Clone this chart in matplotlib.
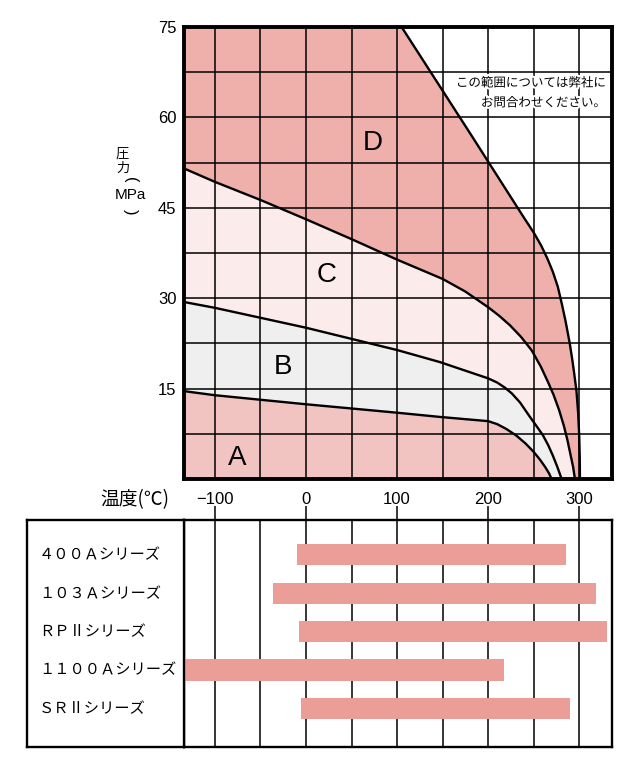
import matplotlib
matplotlib.use("Agg")
import matplotlib.pyplot as plt
import matplotlib.patheffects as pe
import numpy as np

plt.rcParams['font.family'] = ['Liberation Sans', 'Noto Sans CJK JP', 'DejaVu Sans']
JP = ['Noto Sans CJK JP', 'DejaVu Sans']

# ---------------- data ----------------
# boundary curves (temperature degC, pressure MPa)
a_t = [-135, -100, 0, 100, 147, 200, 210, 220, 231, 241, 250, 257, 263, 267, 269.7]
a_p = [14.6, 13.9, 12.4, 11.0, 10.3, 9.6, 9.1, 8.3, 7.2, 5.9, 4.5, 3.2, 1.9, 0.9, 0.0]

b_t = [-135, -100, 0, 100, 147, 200, 210, 218, 226, 235, 245, 253, 260, 266, 271, 276, 280.7]
b_p = [29.4, 28.4, 25.1, 21.4, 19.4, 16.7, 16.0, 15.2, 14.2, 12.7, 10.5, 8.8, 7.3, 5.6, 3.9, 2.0, 0.0]

c_t = [-135, -100, -50, 0, 50, 100, 150, 175, 200, 212, 224, 236, 248, 258, 266, 272, 278,
       283, 287, 290.5, 293.3, 295.3]
c_p = [51.6, 49.3, 46.3, 43.1, 39.8, 36.4, 33.2, 31.1, 28.5, 27.1, 25.5, 23.6, 21.3, 18.6,
       16.0, 13.9, 11.4, 8.9, 6.5, 4.0, 2.0, 0.0]

d_t = [105, 180, 240, 250, 258, 265, 271, 276.5, 281, 285, 289.5, 292.5, 294.5, 297, 298.8,
       300, 300.6, 300.8]
d_p = [75, 57.4, 43.2, 40.9, 38.8, 36.6, 34.4, 31.9, 29.0, 26.2, 22.6, 19.7, 17.5, 14.6,
       11.0, 7.2, 3.5, 0.0]

region_letters = ['A', 'B', 'C', 'D']
letter_t = [-76, -25.6, 22.7, 73]
letter_p = [3.5, 18.6, 33.8, 55.7]

x_ticks = [-100, 0, 100, 200, 300]
x_tick_labels = ['\u2212100', '0', '100', '200', '300']
y_ticks = [15, 30, 45, 60, 75]
y_tick_labels = ['15', '30', '45', '60', '75']

series = ['４００Ａシリーズ', '１０３Ａシリーズ', 'ＲＰⅡシリーズ', '１１００Ａシリーズ', 'ＳＲⅡシリーズ']
range_start = [-10, -36, -8, -140, -6]
range_end = [286, 318, 330, 217, 290]

note_lines = ['この範囲については弊社に', 'お問合わせください。']

# ---------------- colours ----------------
col_a = '#f1c4c1'
col_b = '#efefef'
col_c = '#fbebeb'
col_d = '#efb0ab'
col_bar = '#eb9e97'

W, H = 632, 776
fig = plt.figure(figsize=(W / 100, H / 100), dpi=100)
fig.patch.set_facecolor('white')

L, R = 183.5, 612
XMIN, XMAX = -134.5, 336

# ---------------- top chart ----------------
ax = fig.add_axes([L / W, 1 - 479 / H, (R - L) / W, (479 - 27) / H])
ax.set_xlim(XMIN, XMAX)
ax.set_ylim(0, 75)

at, ap = np.array(a_t), np.array(a_p)
bt, bp = np.array(b_t), np.array(b_p)
ct, cp = np.array(c_t), np.array(c_p)
dt, dp = np.array(d_t), np.array(d_p)

ax.fill(np.r_[XMIN, at, XMIN], np.r_[ap[0], ap, 0], color=col_a, lw=0, zorder=1)
ax.fill(np.r_[at, bt[::-1]], np.r_[ap, bp[::-1]], color=col_b, lw=0, zorder=1)
ax.fill(np.r_[bt, ct[::-1]], np.r_[bp, cp[::-1]], color=col_c, lw=0, zorder=1)
ax.fill(np.r_[ct, dt[::-1], XMIN], np.r_[cp, dp[::-1], 75], color=col_d, lw=0, zorder=1)

for v in np.arange(-100, 301, 50):
    ax.axvline(v, color='black', lw=1.1, zorder=2)
for v in np.arange(7.5, 75, 7.5):
    ax.axhline(v, color='black', lw=1.1, zorder=2)

for tt, pp in [(at, ap), (bt, bp), (ct, cp), (dt, dp)]:
    ax.plot(tt, pp, color='black', lw=1.7, zorder=3, solid_joinstyle='round')

for s, tx, py in zip(region_letters, letter_t, letter_p):
    ax.text(tx, py, s, fontsize=20, ha='center', va='center', zorder=4)

halo = [pe.withStroke(linewidth=3, foreground='white')]
ax.text(329.3, 65.7, note_lines[0], family=JP, fontsize=9, ha='right', va='center',
        zorder=5, path_effects=halo)
ax.text(329.3, 62.4, note_lines[1], family=JP, fontsize=9, ha='right', va='center',
        zorder=5, path_effects=halo)

ax.set_xticks(x_ticks)
ax.set_xticklabels(x_tick_labels)
ax.set_yticks(y_ticks)
ax.set_yticklabels(y_tick_labels)
ax.tick_params(axis='both', length=0, labelsize=12)
ax.tick_params(axis='x', pad=9)
ax.tick_params(axis='y', pad=5)
for sp in ax.spines.values():
    sp.set_linewidth(2.8)
    sp.set_zorder(6)

# y-axis label (vertical writing)
fig.text(122.5 / W, 1 - 154 / H, '圧', family=JP, fontsize=9.5, ha='center', va='center')
fig.text(122.5 / W, 1 - 168 / H, '力', family=JP, fontsize=9.5, ha='center', va='center')
fig.text(130 / W, 1 - 180 / H, '(', fontsize=12, ha='center', va='center', rotation=-90)
fig.text(130 / W, 1 - 195 / H, 'MPa', fontsize=11, ha='center', va='center')
fig.text(130 / W, 1 - 212 / H, ')', fontsize=12, ha='center', va='center', rotation=-90)

# x-axis label
fig.text(135 / W, 1 - 500 / H, '温度(℃)', family=JP, fontsize=13.5, ha='center', va='center')

# ---------------- bottom chart ----------------
BT, BB = 520, 747
ax2 = fig.add_axes([L / W, 1 - BB / H, (R - L) / W, (BB - BT) / H])
ax2.set_xlim(XMIN, XMAX)
ax2.set_ylim(5.0, -0.9)
for v in np.arange(-100, 301, 50):
    ax2.axvline(v, color='black', lw=1.1, zorder=1)
ypos = np.arange(len(series))
ax2.barh(ypos, np.array(range_end) - np.array(range_start), left=range_start,
         height=0.55, color=col_bar, zorder=3)
ax2.set_xticks([])
ax2.set_yticks([])
for sp in ax2.spines.values():
    sp.set_linewidth(1.7)
ax2.vlines(x_ticks, 1.0, 1.0 + 14 / (BB - BT), transform=ax2.get_xaxis_transform(),
           color='black', lw=1.1, clip_on=False)

# label box
ax3 = fig.add_axes([27 / W, 1 - BB / H, (L - 27) / W, (BB - BT) / H])
ax3.set_xlim(0, 1)
ax3.set_ylim(5.0, -0.9)
ax3.set_xticks([])
ax3.set_yticks([])
for sp in ax3.spines.values():
    sp.set_linewidth(1.7)
for i, s in enumerate(series):
    ax3.text((39 - 27) / (L - 27), i, s, family=JP, fontsize=11, ha='left', va='center')

fig.savefig('out.png', dpi=100, facecolor='white')
